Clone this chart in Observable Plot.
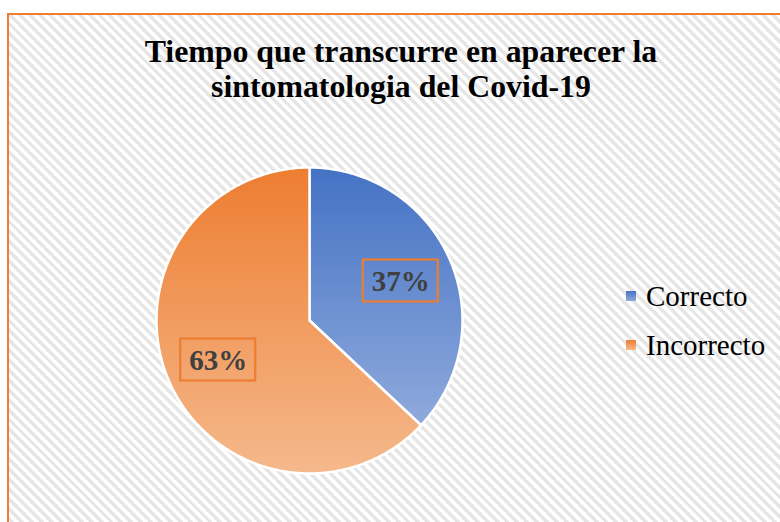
<!DOCTYPE html>
<html>
<head>
<meta charset="utf-8">
<script src="https://cdn.jsdelivr.net/npm/d3@7"></script>
<script src="https://cdn.jsdelivr.net/npm/@observablehq/plot@0.6"></script>
<style>
  html, body { margin: 0; padding: 0; background: #fff; }
  #wrap { position: relative; width: 780px; height: 522px; overflow: hidden; background: #fff; }
  #frame { position: absolute; left: 7px; top: 13px; width: 820px; height: 600px; border: 2px solid #ED7D31;
    background: repeating-linear-gradient(45deg, #ffffff 0px, #ffffff 3.5px, #e6e6e6 3.5px, #e6e6e6 7px); }
  #title { position: absolute; left: 0; width: 802px; top: 34px; text-align: center;
    font-family: "Liberation Serif", "Times New Roman", serif; font-weight: bold; font-size: 31.8px; line-height: 35px; color: #000; }
  #chart { position: absolute; left: 0; top: 0; }
  .leg { position: absolute; left: 626px; font-family: "Liberation Serif", "Times New Roman", serif; font-size: 29px; color: #000; white-space: nowrap; }
  .leg .sw { position: absolute; left: 0; width: 10px; height: 10px; }
  .leg .lb { position: absolute; left: 20px; line-height: 1; }
</style>
</head>
<body>
<div id="wrap">
  <div id="frame"></div>
  <div id="title">Tiempo que transcurre en aparecer la<br>sintomatologia del Covid-19</div>
  <div id="chart"></div>
  <div id="legend"></div>
</div>
<script>
const categories = ["Correcto", "Incorrecto"];
const values = [37, 63];
const labels = ["37%", "63%"];
const gradients = [["#4472C4", "#8FAADC"], ["#ED7D31", "#F5B98C"]];

// Build slice polygons from shares (clockwise from 12 o'clock)
const total = d3.sum(values);
let start = 0;
const slicePoints = [];
const labelPos = [];
categories.forEach((c, i) => {
  const a0 = start, a1 = start + values[i] / total * 2 * Math.PI;
  start = a1;
  const pts = [{cat: c, x: 0, y: 0}];
  const n = Math.max(2, Math.ceil((a1 - a0) / 0.01));
  for (let k = 0; k <= n; k++) {
    const a = a0 + (a1 - a0) * k / n;
    pts.push({cat: c, x: Math.sin(a), y: Math.cos(a)});
  }
  slicePoints.push(pts);
  const am = (a0 + a1) / 2;
  labelPos.push({cat: c, label: labels[i], x: 0.65 * Math.sin(am), y: 0.65 * Math.cos(am)});
});

const bw = 0.245, bh = 0.137;
const plot = Plot.plot({
  width: 780,
  height: 522,
  x: {domain: [-1, 1], range: [156, 462], axis: null},
  y: {domain: [-1, 1], range: [473, 167], axis: null},
  style: {background: "transparent", overflow: "visible"},
  marks: [
    ...slicePoints.map((pts, i) => Plot.line(pts, {
      x: "x", y: "y", curve: "linear-closed",
      fill: `url(#grad${i})`, stroke: "white", strokeWidth: 2.5, strokeLinejoin: "round"
    })),
    Plot.rect(labelPos, {
      x1: d => d.x - bw, x2: d => d.x + bw, y1: d => d.y - bh, y2: d => d.y + bh,
      fill: "none", stroke: "#ED7D31", strokeWidth: 2.2
    }),
    Plot.text(labelPos, {
      x: "x", y: "y", text: "label", fill: "#404040",
      fontFamily: "Liberation Serif, Times New Roman, serif", fontWeight: "bold", fontSize: 29, dy: 1
    })
  ]
});

// gradient defs
const defs = d3.select(plot).insert("defs", ":first-child");
gradients.forEach((g, i) => {
  const lg = defs.append("linearGradient").attr("id", `grad${i}`)
    .attr("x1", 0).attr("y1", 0).attr("x2", 0).attr("y2", 1);
  lg.append("stop").attr("offset", "0%").attr("stop-color", g[0]);
  lg.append("stop").attr("offset", "100%").attr("stop-color", g[1]);
});
document.getElementById("chart").appendChild(plot);

// legend
const legend = d3.select("#legend");
const legTops = [291, 340];
categories.forEach((c, i) => {
  const item = legend.append("div").attr("class", "leg").style("top", legTops[i] + "px");
  item.append("div").attr("class", "sw")
    .style("background", `linear-gradient(${gradients[i][0]}, ${gradients[i][1]})`);
  item.append("div").attr("class", "lb").style("top", "-9px").text(c);
});
</script>
</body>
</html>
